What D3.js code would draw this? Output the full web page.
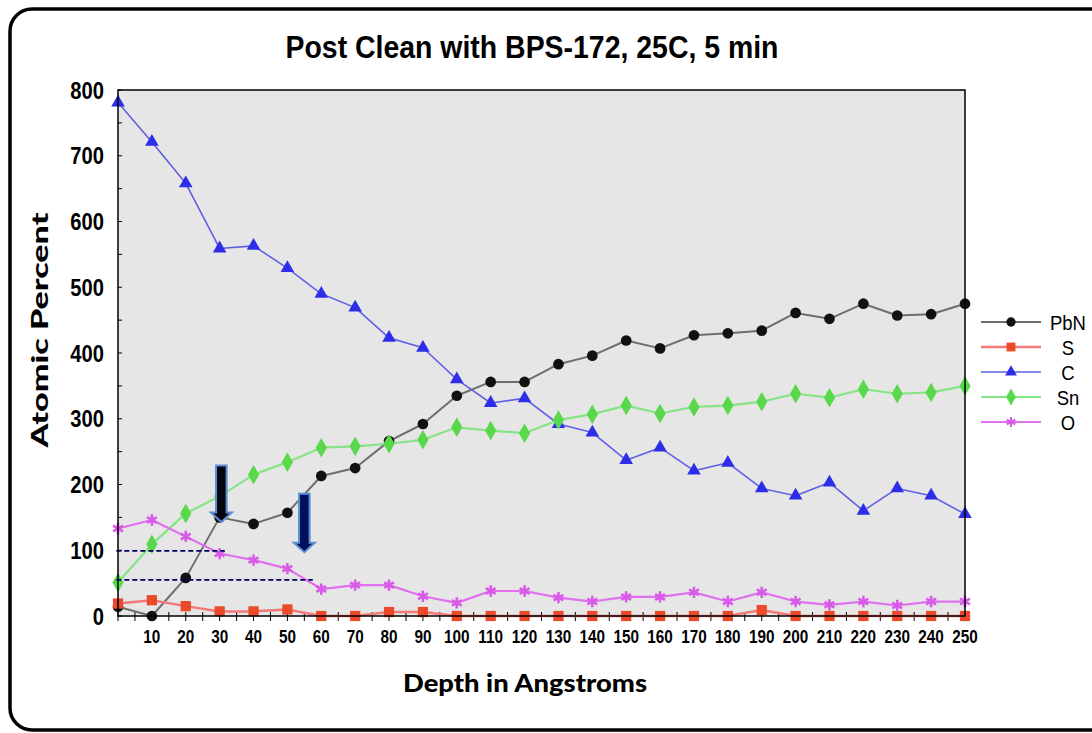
<!DOCTYPE html>
<html><head><meta charset="utf-8">
<script src="https://cdn.jsdelivr.net/npm/d3@7"></script>
<style>html,body{margin:0;padding:0;background:#fff;}svg{display:block;}</style>
</head><body>
<script>
// ---- data ----
const depths = [0,10,20,30,40,50,60,70,80,90,100,110,120,130,140,150,160,170,180,190,200,210,220,230,240,250];
const PbN = [14,0,58,150,140,157,213,225,266,292,335,356,356,383,396,419,407,427,430,434,461,452,475,457,459,475];
const S   = [19,24,15,7,7,10,0,0,6,6,0,0,0,0,0,0,0,0,0,9,0,0,0,0,0,0];
const C   = [781,721,658,559,563,529,490,469,423,408,360,324,331,292,279,237,256,221,233,194,183,203,160,194,183,155];
const Sn  = [51,109,156,182,215,234,256,258,262,268,287,282,278,298,307,320,308,318,320,326,338,332,345,338,340,350];
const O   = [133,146,121,95,85,72,41,47,47,30,20,38,38,28,22,29,29,36,22,36,22,17,22,16,22,22];
const seriesNames = ["PbN","S","C","Sn","O"];
const xTickLabels = [10,20,30,40,50,60,70,80,90,100,110,120,130,140,150,160,170,180,190,200,210,220,230,240,250];
const yTickLabels = [0,100,200,300,400,500,600,700,800];
const guideLines = [{value:99, from:-0.5, to:31.5},{value:55, from:-0.5, to:57.5}];
const arrows = [{depth:30.5, top:229, tip:143, dark:true},{depth:55, top:186, tip:97, dark:false}];
const titleText = "Post Clean with BPS-172, 25C, 5 min";

// ---- setup ----
const W=1092,H=733;
const svg=d3.select("body").append("svg").attr("width",W).attr("height",H);
const x=d3.scaleLinear().domain([0,250]).range([118,965]);
const y=d3.scaleLinear().domain([0,800]).range([616,90]);

const styles={
  PbN:{line:"#6e6e6e",mark:"#111",sym:d3.symbolCircle,size:90,lw:2},
  S:{line:"#f27a7a",mark:"#ea4a2a",sym:d3.symbolSquare,size:105,lw:2.5},
  C:{line:"#6060e6",mark:"#2e2ee8",sym:d3.symbolTriangle,size:80,lw:1.6},
  Sn:{line:"#86e486",mark:"#58d84a",sym:d3.symbolDiamond,size:110,lw:2.2},
  O:{line:"#e070ee",mark:"#d85ae8",sym:d3.symbolAsterisk,size:90,lw:2.2}
};
const dataMap={PbN,S,C,Sn,O};

function condense(sel,f){sel.each(function(){const l=this.getComputedTextLength();d3.select(this).attr("textLength",l*f).attr("lengthAdjust","spacingAndGlyphs");});}

// frame
svg.append("rect").attr("x",10).attr("y",9).attr("width",1200).attr("height",721).attr("rx",22)
  .attr("fill","#fff").attr("stroke","#000").attr("stroke-width",3.5);

// plot bg
svg.append("rect").attr("x",x(0)).attr("y",y(800)).attr("width",x(250)-x(0)).attr("height",y(0)-y(800))
  .attr("fill","#e6e6e6");

// title
svg.append("text").attr("x",532).attr("y",58).attr("text-anchor","middle")
  .attr("font-family","Liberation Sans, Arial, sans-serif").attr("font-weight","bold").attr("font-size",31)
  .attr("fill","#000").attr("textLength",493).attr("lengthAdjust","spacingAndGlyphs").text(titleText);

// y minor ticks (inside)
svg.append("g").selectAll("line").data(d3.range(0,801,50)).join("line")
  .attr("x1",x(0)).attr("x2",x(0)+4).attr("y1",d=>y(d)).attr("y2",d=>y(d)).attr("stroke","#000").attr("stroke-width",1);
// x ticks every 5, crossing
svg.append("g").selectAll("line").data(d3.range(0,251,5)).join("line")
  .attr("x1",d=>x(d)).attr("x2",d=>x(d)).attr("y1",y(0)-4).attr("y2",y(0)+5).attr("stroke","#000").attr("stroke-width",1);

// y labels
const yl=svg.append("g").selectAll("text").data(yTickLabels).join("text")
  .attr("x",104).attr("y",d=>y(d)).attr("dy","0.36em").attr("text-anchor","end")
  .attr("font-family","Liberation Sans, Arial, sans-serif").attr("font-weight","bold").attr("font-size",24)
  .text(d=>d);
condense(yl,0.84);
// x labels
const xl=svg.append("g").selectAll("text").data(xTickLabels).join("text")
  .attr("x",d=>x(d)).attr("y",637).attr("dy","0.36em").attr("text-anchor","middle")
  .attr("font-family","Liberation Sans, Arial, sans-serif").attr("font-weight","bold").attr("font-size",18)
  .text(d=>d);
condense(xl,0.85);

// axis titles
svg.append("text").attr("x",525).attr("y",692).attr("text-anchor","middle")
  .attr("font-family","Lato, sans-serif").attr("font-weight","900").attr("font-size",25)
  .attr("textLength",244).attr("lengthAdjust","spacingAndGlyphs").text("Depth in Angstroms");
svg.append("text").attr("transform","translate(48,330) rotate(-90)").attr("text-anchor","middle")
  .attr("font-family","Lato, sans-serif").attr("font-weight","900").attr("font-size",22)
  .attr("textLength",235).attr("lengthAdjust","spacingAndGlyphs").text("Atomic Percent");

// series
const plotG=svg.append("g");
seriesNames.forEach(name=>{
  const st=styles[name],vals=dataMap[name];
  const pts=depths.map((d,i)=>[d,vals[i]]);
  plotG.append("path").datum(pts).attr("fill","none").attr("stroke",st.line).attr("stroke-width",st.lw)
    .attr("stroke-linejoin","round")
    .attr("d",d3.line().x(p=>x(p[0])).y(p=>y(p[1])));
});
seriesNames.forEach(name=>{
  const st=styles[name],vals=dataMap[name];
  const pts=depths.map((d,i)=>[d,vals[i]]);
  const sym=d3.symbol().type(st.sym).size(st.size);
  plotG.append("g").selectAll("path").data(pts).join("path")
    .attr("transform",p=>`translate(${x(p[0])},${y(p[1])})`)
    .attr("d",sym)
    .attr("fill",st.mark)
    .attr("stroke",st.mark).attr("stroke-width",name==="O"?2.6:0);
});

// plot border
svg.append("rect").attr("x",x(0)).attr("y",y(800)).attr("width",x(250)-x(0)).attr("height",y(0)-y(800))
  .attr("fill","none").attr("stroke","#000").attr("stroke-width",1.5);

// guide dashed lines
svg.append("g").selectAll("line").data(guideLines).join("line")
  .attr("x1",d=>x(d.from)).attr("x2",d=>x(d.to)).attr("y1",d=>y(d.value)).attr("y2",d=>y(d.value))
  .attr("stroke","#00005e").attr("stroke-width",1.6).attr("stroke-dasharray","5,3");

// arrows
const sw=5.3, hw=10.5, hl=9.5;
svg.append("g").selectAll("path").data(arrows).join("path")
  .attr("d",a=>{const cx=x(a.depth),t=y(a.top),tip=y(a.tip),hb=tip-hl;
    return `M${cx-sw},${t}L${cx+sw},${t}L${cx+sw},${hb}L${cx+hw},${hb}L${cx},${tip}L${cx-hw},${hb}L${cx-sw},${hb}Z`;})
  .attr("fill",a=>a.dark?"#05050f":"#00105a").attr("stroke","#5b8fd4").attr("stroke-width",2).attr("stroke-linejoin","miter");

// legend
const lg=svg.append("g");
seriesNames.forEach((name,i)=>{
  const st=styles[name],yy=322+i*25;
  lg.append("line").attr("x1",981).attr("x2",1041).attr("y1",yy).attr("y2",yy).attr("stroke",st.line).attr("stroke-width",st.lw);
  lg.append("path").attr("transform",`translate(1011,${yy})`).attr("d",d3.symbol().type(st.sym).size(st.size*0.75))
    .attr("fill",st.mark).attr("stroke",st.mark).attr("stroke-width",name==="O"?2:0);
  const t=lg.append("text").attr("x",1068).attr("y",yy).attr("dy","0.36em").attr("text-anchor","middle")
    .attr("font-family","Liberation Sans, Arial, sans-serif").attr("font-size",21).text(name);
  condense(t,0.88);
});
</script>
</body></html>
